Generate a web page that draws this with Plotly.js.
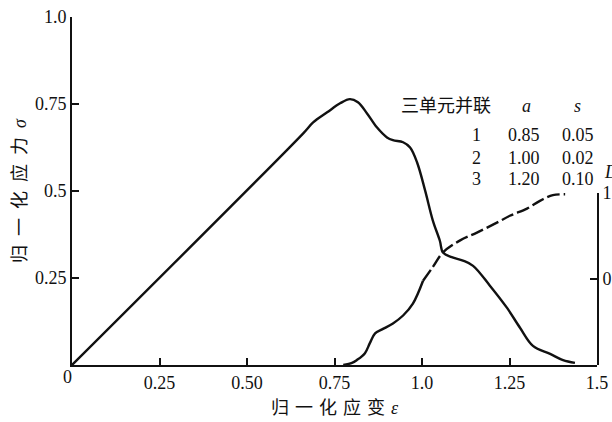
<!DOCTYPE html>
<html>
<head>
<meta charset="utf-8">
<script src="https://cdn.plot.ly/plotly-3.0.1.min.js"></script>
<style>
  html, body { margin: 0; padding: 0; background: #fff; }
  #chart { width: 612px; height: 422px; }
</style>
</head>
<body>
<div id="chart"></div>
<script>
// Normalised strain (x) vs normalised stress (left axis) and damage D (right axis)
const stressStrain = [0, 0.66, 0.689, 0.729, 0.766, 0.794, 0.817, 0.843, 0.871, 0.9, 0.917, 0.946, 0.966, 0.986, 1.009, 1.031, 1.051, 1.06, 1.085, 1.117, 1.146, 1.194, 1.243, 1.28, 1.317, 1.366, 1.403, 1.437];
const stressValues = [0, 0.665, 0.697, 0.726, 0.752, 0.764, 0.755, 0.723, 0.683, 0.654, 0.646, 0.640, 0.625, 0.582, 0.501, 0.415, 0.357, 0.323, 0.31, 0.300, 0.285, 0.228, 0.164, 0.107, 0.055, 0.032, 0.014, 0.006];

// damage curve: solid while rising steeply, dashed afterwards
const damageStrainSolid = [0.775, 0.80, 0.814, 0.837, 0.851, 0.866, 0.886, 0.917, 0.946, 0.974, 1.003];
const damageSolid       = [0, 0.012, 0.029, 0.069, 0.127, 0.184, 0.207, 0.242, 0.288, 0.357, 0.49];
const damageStrainDashed = [1.003, 1.031, 1.06, 1.109, 1.157, 1.214, 1.251, 1.30, 1.337, 1.374, 1.409];
const damageDashed       = [0.49, 0.57, 0.655, 0.725, 0.77, 0.828, 0.868, 0.91, 0.955, 0.988, 0.993];

// parameters of the three parallel elements
const unitIds = ['1', '2', '3'];
const aValues = [0.85, 1.00, 1.20];
const sValues = [0.05, 0.02, 0.10];

const xTickVals = [0.25, 0.5, 0.75, 1.0, 1.25, 1.5];
const xTickText = ['0.25', '0.50', '0.75', '1.0', '1.25', '1.5'];
const yTickVals = [0.25, 0.5, 0.75, 1.0];
const yTickText = ['0.25', '0.5', '0.75', '1.0'];
const dTickVals = [0.5, 1];
const dTickText = ['0.5', '1'];

const ink = '#111';
const serif = 'Liberation Serif, Noto Sans CJK SC, serif';
const tickFont = { family: 'Liberation Serif, serif', size: 18, color: ink };

const traces = [
  { x: stressStrain, y: stressValues, xaxis: 'x', yaxis: 'y', mode: 'lines',
    line: { color: ink, width: 2.4, shape: 'spline', smoothing: 1 }, hoverinfo: 'skip' },
  { x: damageStrainSolid, y: damageSolid, xaxis: 'x', yaxis: 'y2', mode: 'lines',
    line: { color: ink, width: 2.4, shape: 'spline', smoothing: 1 }, hoverinfo: 'skip' },
  { x: damageStrainDashed, y: damageDashed, xaxis: 'x', yaxis: 'y2', mode: 'lines',
    line: { color: ink, width: 2.4, shape: 'spline', smoothing: 1, dash: '13px,4px' }, hoverinfo: 'skip' }
];

const axisStyle = {
  showline: true, linecolor: ink, linewidth: 2, mirror: false,
  ticks: 'inside', ticklen: 7, tickwidth: 2, tickcolor: ink,
  showgrid: false, zeroline: false, tickfont: tickFont, fixedrange: true
};

// parameter table
const annotations = [];
const tableFont = { family: serif, size: 18, color: ink };
annotations.push({ xref: 'paper', yref: 'paper', x: 0.712, y: 0.744, text: '三单元并联',
  showarrow: false, xanchor: 'center', yanchor: 'middle', font: tableFont });
annotations.push({ xref: 'paper', yref: 'paper', x: 0.865, y: 0.744, text: '<i>a</i>',
  showarrow: false, xanchor: 'center', yanchor: 'middle', font: tableFont });
annotations.push({ xref: 'paper', yref: 'paper', x: 0.962, y: 0.744, text: '<i>s</i>',
  showarrow: false, xanchor: 'center', yanchor: 'middle', font: tableFont });
const rowY = [0.661, 0.595, 0.534];
unitIds.forEach((id, i) => {
  annotations.push({ xref: 'paper', yref: 'paper', x: 0.771, y: rowY[i], text: id,
    showarrow: false, xanchor: 'center', yanchor: 'middle', font: tableFont });
  annotations.push({ xref: 'paper', yref: 'paper', x: 0.861, y: rowY[i], text: aValues[i].toFixed(2),
    showarrow: false, xanchor: 'center', yanchor: 'middle', font: tableFont });
  annotations.push({ xref: 'paper', yref: 'paper', x: 0.964, y: rowY[i], text: sValues[i].toFixed(2),
    showarrow: false, xanchor: 'center', yanchor: 'middle', font: tableFont });
});
// damage axis label
annotations.push({ xref: 'paper', yref: 'paper', x: 1.0095, y: 0.555, text: '<i>D</i>',
  showarrow: false, xanchor: 'left', yanchor: 'middle', font: tableFont });
// shared origin label
annotations.push({ xref: 'paper', yref: 'paper', x: 0, y: 0, text: '0',
  showarrow: false, xanchor: 'right', yanchor: 'top', xshift: 2, yshift: 0, font: tickFont });

const layout = {
  width: 612, height: 422,
  margin: { l: 72, r: 15, t: 17, b: 57 },
  paper_bgcolor: '#fff', plot_bgcolor: 'rgba(0,0,0,0)',
  showlegend: false,
  xaxis: Object.assign({}, axisStyle, {
    range: [0, 1.5], anchor: 'y', tickvals: xTickVals, ticktext: xTickText,
    title: { text: '归\u2004一\u2004化\u2004应\u2004变\u2004<i>ε</i>', standoff: 10,
      font: { family: serif, size: 18, color: ink } }
  }),
  yaxis: Object.assign({}, axisStyle, {
    range: [0, 1], domain: [0, 1], anchor: 'x', tickvals: yTickVals, ticktext: yTickText,
    title: { text: '归\u2002一\u2002化\u2002应\u2002力\u2002<i>σ</i>', standoff: 4,
      font: { family: serif, size: 18, color: ink } }
  }),
  yaxis2: Object.assign({}, axisStyle, {
    range: [0, 1], domain: [0, 0.494], anchor: 'x', side: 'right',
    tickvals: dTickVals, ticktext: dTickText
  }),
  annotations: annotations
};

Plotly.newPlot('chart', traces, layout, { staticPlot: true, displayModeBar: false });
</script>
</body>
</html>
